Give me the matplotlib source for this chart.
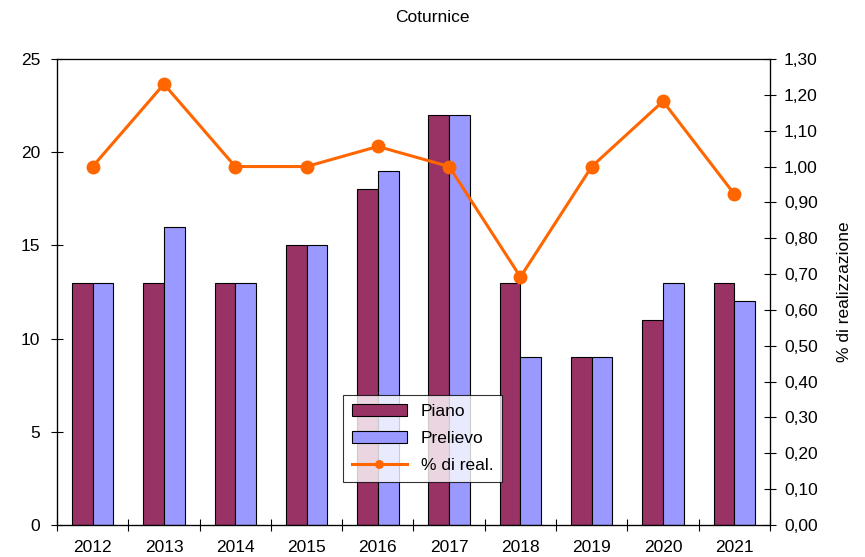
import matplotlib.pyplot as plt
import numpy as np
from matplotlib.ticker import FuncFormatter, FixedLocator, NullFormatter

years = ['2012', '2013', '2014', '2015', '2016', '2017', '2018', '2019', '2020', '2021']
piano = [13, 13, 13, 15, 18, 22, 13, 9, 11, 13]
prelievo = [13, 16, 13, 15, 19, 22, 9, 9, 13, 12]
real = [1.00, 1.23, 1.00, 1.00, 1.056, 1.00, 0.692, 1.00, 1.182, 0.923]

plt.rcParams['font.family'] = ['Liberation Sans', 'DejaVu Sans']
fs = 12.5

fig = plt.figure(figsize=(8.65, 5.57), dpi=100)
ax = fig.add_axes([57 / 865, 1 - 525 / 557, 713 / 865, 466 / 557])

x = np.arange(len(years))
w = 0.29
ax.bar(x - w / 2, piano, w, color='#993366', edgecolor='black', linewidth=0.8, label='Piano')
ax.bar(x + w / 2, prelievo, w, color='#9999FF', edgecolor='black', linewidth=0.8, label='Prelievo')
ax.set_xlim(-0.5, len(years) - 0.5)
ax.set_ylim(0, 25)
ax.set_yticks([0, 5, 10, 15, 20, 25])
ax.tick_params(axis='y', direction='inout', length=8, labelsize=fs, pad=8)
ax.xaxis.set_major_locator(FixedLocator(np.arange(-0.5, len(years), 1)))
ax.xaxis.set_major_formatter(NullFormatter())
ax.xaxis.set_minor_locator(FixedLocator(x))
ax.set_xticklabels(years, minor=True)
ax.tick_params(axis='x', which='major', direction='inout', length=8)
ax.tick_params(axis='x', which='minor', length=0, labelsize=fs, pad=11)
for s in ax.spines.values():
    s.set_linewidth(0.9)
ax.spines['top'].set_color('#555555')

ax2 = ax.twinx()
ax2.plot(x, real, color='#FF6600', linewidth=2.2, marker='o', markersize=9, label='% di real.')
ax2.set_ylim(0, 1.30)
ax2.set_yticks(np.arange(0, 1.301, 0.10))
ax2.yaxis.set_major_formatter(FuncFormatter(lambda v, p: f'{v:.2f}'.replace('.', ',')))
ax2.tick_params(axis='y', direction='inout', length=8, labelsize=fs, pad=6)
ax2.set_ylabel('% di realizzazione', fontsize=fs, labelpad=14)

fig.text(0.5, 1 - 18 / 557, 'Coturnice', ha='center', va='center', fontsize=fs)

h1, l1 = ax.get_legend_handles_labels()
h2, l2 = ax2.get_legend_handles_labels()
leg = ax.legend(h1 + h2, l1 + l2, loc='upper left',
                bbox_to_anchor=((343 - 57) / 713, (525 - 395) / 466),
                frameon=True, fancybox=False, edgecolor='black', fontsize=fs,
                handlelength=3.2, borderpad=0.5, labelspacing=0.7,
                markerscale=0.6, borderaxespad=0)
leg.get_frame().set_linewidth(0.8)

fig.savefig('out.png', dpi=100)
